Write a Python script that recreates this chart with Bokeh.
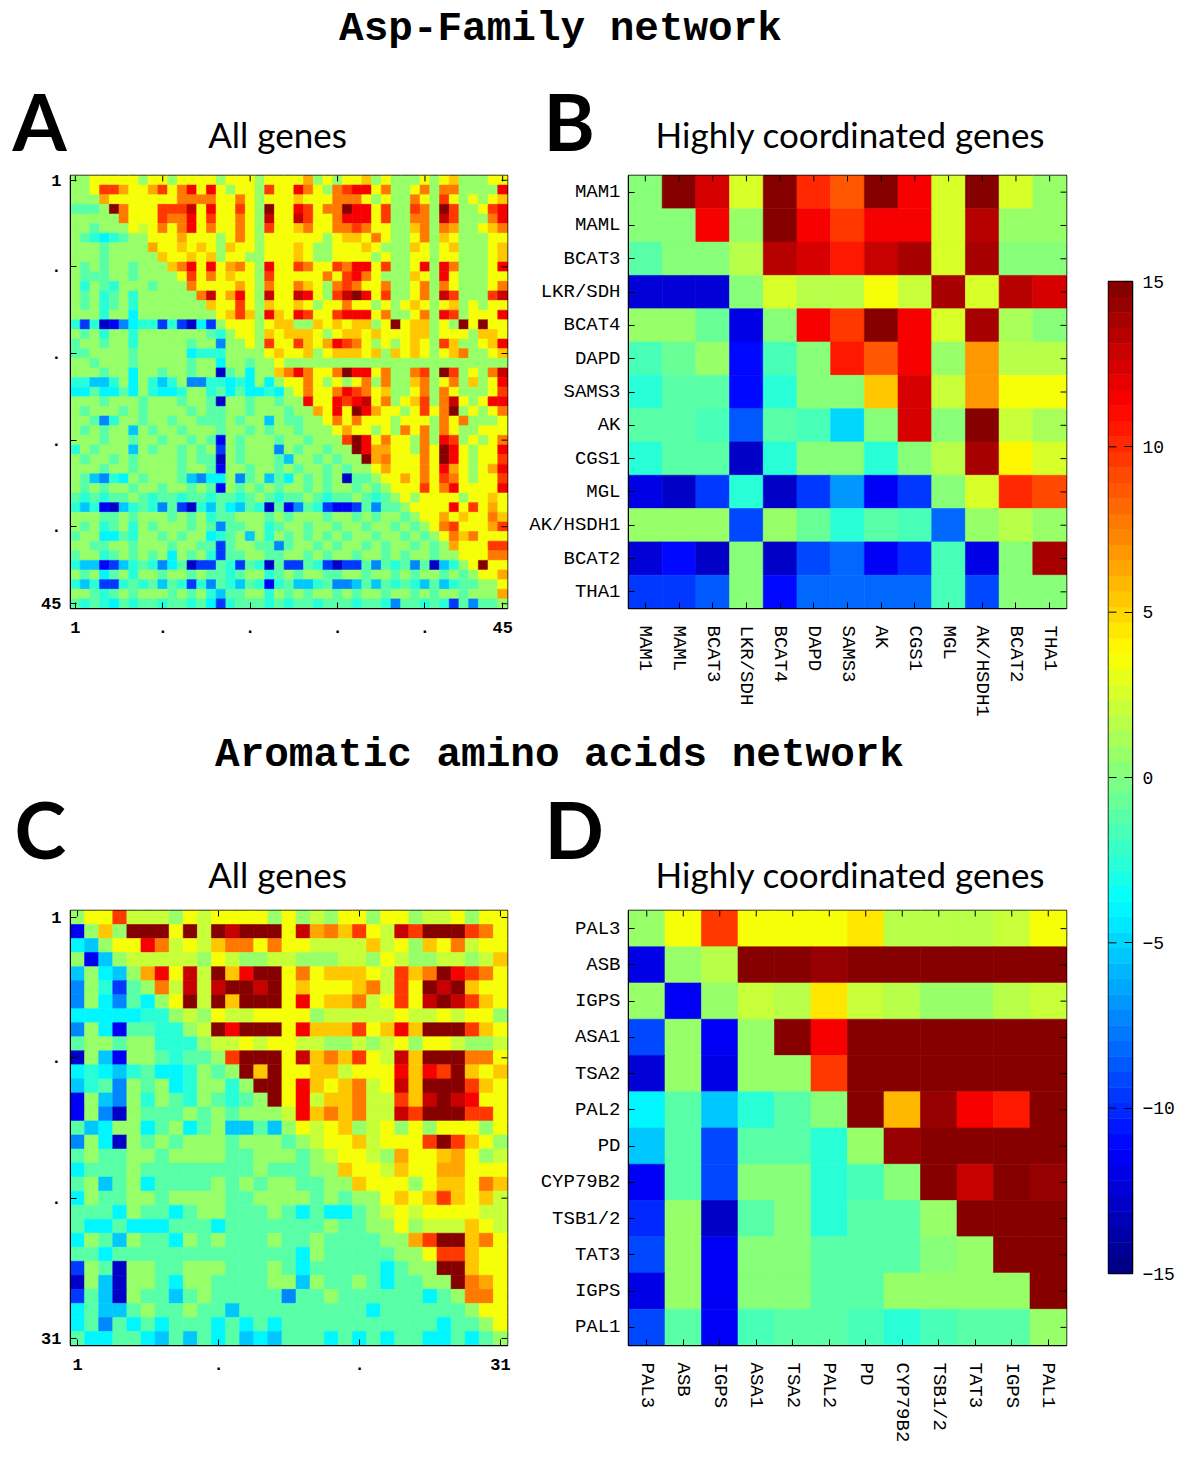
from bokeh.plotting import figure
from bokeh.models import Range1d, FixedTicker, LinearColorMapper, ColumnDataSource, Spacer
from bokeh.transform import transform
from bokeh.layouts import row, column
from bokeh.core.properties import value
from bokeh.embed import file_html
from bokeh.resources import INLINE

# ---------------- data ----------------
# level codes used for the two large "All genes" matrices
LEVELS = {'B': -13, 'b': -11.3, 'm': -9.5, 'l': -7.5, 's': -5.5, 'c': -4, 'q': -2.6,
          'a': -1.2, 'g': 0.5, 'h': 2, 'y': 3.6, 'Y': 5.2, 'O': 6.5, 'o': 7.8,
          'r': 9.5, 'R': 11.3, 'd': 13, 'D': 15}

A_ROWS = [
    "ggyyyyygyy" "gyyyygyyyg" "yyyyOgygyy" "YgygggygyY" "gggyy",
    "ggyrrOyyOr" "yoRyRygyyg" "ryyRoygorR" "Ryoggyogoo" "ggggR",
    "gggOyyyyyy" "yooooyyoyg" "yyyYyyyooo" "ygyggoygry" "gygyY",
    "aaagDoyyyr" "rrdyRyyryg" "DyyRryooDR" "RyrggrogDr" "ggyrR",
    "gggggoyyyr" "ooRyryyoyg" "dyydryyoRR" "Ryrggoogdr" "gggoR",
    "ggagggyhyo" "yoRyoyyoyg" "ryyYoyyoor" "oyyggYogoO" "ggyYo",
    "gaqcqaggyy" "yOyyygyoyg" "yyyyyygyYY" "yoyggyogYy" "gggyy",
    "gggaggggOy" "yYyYygYyyg" "yyyYyggyyy" "YygggYygyY" "gggyY",
    "gggagggggY" "yyYyYgyygg" "yyyYyggyyy" "ygyggyygyy" "gggyY",
    "gagaggaggg" "YoRyRyOoyg" "RyyroyyroR" "RyrggyRgRo" "gggyR",
    "gaaaggaggg" "gyryoyYyyg" "ryyyyyoyrR" "oygggYygRy" "gggyy",
    "gqgaqgggag" "ggoyyyyOyg" "oyyoYygoro" "yyoggyogoy" "gggyo",
    "gagqagqggg" "gggodyORyg" "dyydRygrdD" "Ryrggyogdr" "gggrd",
    "gagqagqggg" "ggggYyyryg" "YyyYygyyoy" "ygygyYygyY" "gygyy",
    "gggqggcggg" "gggggyYrYg" "RYyRryyrRR" "RyoggyogRr" "gyyyR",
    "qmqBblcqqm" "qmBcmgyyyg" "yYYggYyYyY" "YgyDyYYgyg" "DyDyy",
    "gagqggqggg" "ggggaqgyyg" "YyYYYygyYY" "yYyyyYYgyy" "ygYYy",
    "aggaggqggg" "ggagglggyg" "ryyrYyORro" "ygygyYygrY" "ggyYR",
    "aaggggaggg" "ggcqqqgggg" "yYyyYgyYYY" "yYgYyYygyY" "oggyY",
    "ggagggaggg" "ggaggcggag" "gygggggggg" "gggggggggg" "ggggg",
    "gggaggcgga" "ggaggBagcg" "gYoRoyyoDR" "RyoggorgDr" "gygod",
    "qqssqgcgqs" "qgllqqcqcg" "cgyyoygygy" "ogoggYogyo" "gYgyR",
    "ccaccacgqc" "cqggqacacc" "qcgyoyyoRr" "oyYggyogoy" "gggyr",
    "gggagggagg" "gaggaBggag" "gaggRyyRrR" "dyogyYrgod" "ygyRR",
    "gagggagagg" "ggagaaggag" "ggaggOyRyD" "ROyygyryoD" "gygyo",
    "ggalqggagg" "aggaaagagg" "sgaaggyoyo" "yyygyyygoy" "ogggy",
    "gagaggsgag" "gagggaggag" "aggagggyOy" "ygygoyogoy" "ggyyy",
    "gggaggagga" "ggagabgagg" "gaggagggrD" "RyoyygogRr" "gygyo",
    "qgagggsgag" "gagagmgagg" "glgaggaggD" "ROOyygoyDR" "ygyyR",
    "gaggagaggg" "gagaaBgagg" "gasggagagg" "DOoyyyoyDR" "ygyyr",
    "gggaggaggg" "gaggabggag" "gagaggagag" "gyOyyyoyRO" "ygyOR",
    "gaslqcgagg" "gaslccglag" "sacgagagBa" "agyyOyoyro" "ygyyr",
    "gagaggagga" "ggagabgaga" "gaggagagga" "gagyyyryoR" "yyyyR",
    "aqaqaagaqa" "aqaaqaaqag" "aqaagaqaag" "aqagygyyyy" "gyyYy",
    "qsqbBsqaql" "amBqsacsaq" "Bablaqmbbm" "alaagyyyyR" "yryOy",
    "gggaagaggg" "agagqaaggg" "agagggagga" "gaggagyyOy" "YyyoY",
    "gagqagqgag" "ggagalaagg" "qaggaggagg" "aggagagyor" "yyyOr",
    "aggccaqgga" "gaggcqagsg" "qgagagagag" "gaggagagyo" "Yoyyy",
    "ggaaggaggg" "aggaamagga" "alaggagagg" "agaggagagO" "yyyrr",
    "aggqagagag" "cgagqmaagg" "aaggagagga" "ggagaggagg" "yyyoo",
    "qssbmsqaql" "caBmmaqmaq" "BammaqmBmm" "alaqalaBsq" "gyDyy",
    "gagcagqgga" "ggagaaqagg" "qagaggaagg" "aggagaggag" "agyyO",
    "qsqmmqaqas" "aqmqlaqsaq" "bqassqalls" "asaqaqsasq" "aaggy",
    "ggaqagaggg" "agagqsaagg" "qgagaggaga" "ggaggagagg" "agggO",
    "aqaqcaqaaq" "aaqacmqaaa" "qaqaaqaaaq" "aaqlaaqaqm" "alaag",
]

C_ROWS = [
    "gyyrhhhgyh" "yyyygyghgy" "ygyyghhygy" "y",
    "bgYgDDDyDh" "DdDDDydOoY" "ryhdrDDDro" "y",
    "csgyyRohyh" "Yooyoyyhhh" "hYhygYyohy" "y",
    "gbsghhhhhg" "yhgghhgggh" "hgyhgghhgh" "Y",
    "sgcsgORydh" "DYRDDyoyYY" "YyhrYoDRro" "y",
    "lgqmagohdh" "dDDdDyYyyy" "YohryDdDYy" "y",
    "lgclacgyDh" "DYDDDyRyYY" "ohyrydDdrY" "y",
    "cccccqqghg" "yhhyyyyghh" "hhhyhhyhyy" "g",
    "lgcbaaqqgh" "DRDDDyRYYY" "ryYRYDDDrY" "y",
    "aggaggqqqg" "hhyhyyhhgg" "hghygyyhgg" "h",
    "Bgsbggaqaa" "grDDDydYoY" "ryhdYDDDoo" "y",
    "cqcsqaccqg" "agDYDyyYYh" "yyyRYRrDYy" "Y",
    "sqalgagcqg" "gqgDDyRYyY" "ohydYDDDrY" "y",
    "bgslgqgaqg" "aqagDyRhYY" "ohhrYdDdRy" "y",
    "bglBgaaaga" "gaggghRYoY" "ohhdrDDDrr" "y",
    "ascggcagca" "gssasgyhyY" "ghygygyyyg" "y",
    "lgcBgagagg" "gagggaghyy" "YhyyyrDrYy" "g",
    "agaaggaggg" "gaagggaghy" "yhgOyyYOyg" "h",
    "caaagaaaaa" "aaagaaaggY" "yyhYyyOOyy" "y",
    "agsagcaaaa" "gagaggaagg" "YyyygyYYyo" "Y",
    "cgaaggaggg" "gaaggggaga" "ggyYyYrYyY" "h",
    "aaacgaacag" "gaaagacacc" "aghyhyyyyh" "h",
    "accacccaaa" "caaaaaaaga" "aggyghhhYy" "h",
    "cgasgaacga" "gaaagaagaa" "aaggOrDDYo" "y",
    "aacaaaaaaa" "aaaaaacgaa" "aaaggyrrYy" "y",
    "mgaBggaagg" "gaaagacaaa" "aacaggDDYy" "y",
    "BgsBggacgg" "aaaaggsgaa" "gacaaggDoO" "y",
    "masBgaasag" "aaaaalaaga" "aaaaacagoo" "y",
    "cassagaaga" "asaaaaaaaa" "acaaaaaagy" "y",
    "calacacaaa" "cacacaaaaa" "aaaaaacaag" "y",
    "accaacsasa" "cascsaaaca" "cacaaccaca" "g",
]

A_TICKS = [1, 10, 19, 28, 37, 45]
A_TICK_LABELS = ["1", ".", ".", ".", ".", "45"]
C_TICKS = [1, 11, 21, 31]
C_TICK_LABELS = ["1", ".", ".", "31"]

B_GENES = ["MAM1", "MAML", "BCAT3", "LKR/SDH", "BCAT4", "DAPD", "SAMS3", "AK",
           "CGS1", "MGL", "AK/HSDH1", "BCAT2", "THA1"]
B_VALUES = [
    [0.3, 15, 12.5, 2.5, 15, 10, 8.5, 15, 11.5, 2.5, 15, 2.5, 0.5],
    [0.3, 0.3, 11.5, 0.5, 15, 11.5, 9.5, 11.5, 11.5, 2.5, 13.5, 0.5, 0.5],
    [-1, 0.3, 0.3, 1.5, 13.5, 12.5, 10.5, 13, 14, 2.5, 14, 0.3, 0.3],
    [-12.5, -12.5, -12.5, 0.3, 2.5, 1.5, 1.5, 3.5, 2, 14, 2.5, 13.5, 12.5],
    [0.5, 0.5, -0.8, -12, 0.3, 11.5, 9.5, 15, 11.5, 2.5, 14, 1, 0.3],
    [-1.5, -0.8, 0.5, -11, -1.8, 0.3, 10.5, 8.5, 11.5, 0.8, 7, 1.5, 1.5],
    [-2.6, -1, -1, -11, -2.6, 0.3, 0.3, 5.5, 12.5, 2.3, 7, 3.5, 3.5],
    [-1, -1, -1.5, -8.5, -1.2, -1.8, -4.9, 0.3, 12.5, 0.3, 15, 2, 1],
    [-2.5, -1, -1, -12.8, -2.6, 0.3, 0.3, -2.6, 0.3, 1.5, 14, 3.8, 2.5],
    [-12, -12.8, -9.5, -2.6, -12.8, -9.8, -6.8, -11.3, -9.8, 0.3, 2.5, 10, 9],
    [0.8, 0.8, 0.8, -9, 0.8, -0.8, -2.6, -1, -1.8, -8.3, 0.5, 1.8, 0.5],
    [-12.5, -11, -12.8, 0.3, -13, -9, -8.3, -11.3, -10, -1.8, -12, 0.3, 14],
    [-9.5, -9.5, -8.5, 0.3, -11, -8, -8, -8, -8, -1.8, -9, 0.3, 0.3],
]

D_GENES = ["PAL3", "ASB", "IGPS", "ASA1", "TSA2", "PAL2", "PD", "CYP79B2",
           "TSB1/2", "TAT3", "IGPS", "PAL1"]
D_VALUES = [
    [0.5, 3.5, 9.5, 3.3, 3.3, 3.3, 4.5, 1.5, 1.5, 1.5, 2.2, 3.3],
    [-11.8, 0.5, 1.5, 15, 15, 14.3, 15, 15, 15, 15, 15, 15],
    [0.5, -11.5, 0.5, 2.3, 1.5, 4.5, 2.3, 1.5, 0.5, 0.5, 1.5, 2.3],
    [-9, 0.5, -11.3, 0.5, 15, 11.5, 15, 15, 15, 15, 15, 15],
    [-12.5, 0.5, -12, 0.5, 0.5, 9.5, 15, 15, 15, 15, 15, 15],
    [-3.8, -1, -5.5, -2.6, -1.2, 0.3, 15, 6, 14.2, 11.3, 10.5, 15],
    [-5.5, -1, -9, -1, -1, -2.6, 0.5, 14.2, 15, 15, 15, 15],
    [-11.5, -1, -9, 0.3, 0.3, -2.6, -1.5, 0.3, 15, 13, 15, 14.2],
    [-10, 0.5, -12.8, -1, 0.3, -2.6, -1, -1, 0.5, 15, 15, 15],
    [-9, 0.5, -11.3, 0.3, 0.3, -1, -1, -1, 0.3, 0.5, 15, 15],
    [-12, 0.5, -11.5, 0.3, 0.3, -1, -1, 0.5, 0.5, 0.5, 0.5, 15],
    [-9, -1, -11.3, -1.5, -1, -1, -1.5, -2.6, -1.5, -1, -1, 0.5],
]

CBAR_TICKS = [-15, -10, -5, 0, 5, 10, 15]
CBAR_LABELS = ["\u221215", "\u221210", "\u22125", "0", "5", "10", "15"]
VMIN, VMAX = -15, 15

# ---------------- style ----------------
MONO = "Liberation Mono"
HEAD = "Lato"


def jet(n=64):
    cols = []
    for i in range(n):
        t = (i + 0.5) / n
        r = min(1, max(0, 1.5 - abs(4 * t - 3)))
        g = min(1, max(0, 1.5 - abs(4 * t - 2)))
        b = min(1, max(0, 1.5 - abs(4 * t - 1)))
        cols.append("#%02x%02x%02x" % (round(r * 255), round(g * 255), round(b * 255)))
    return cols


PALETTE = jet(64)
MAPPER = LinearColorMapper(palette=PALETTE, low=VMIN, high=VMAX)


def decode(rows):
    return [[LEVELS[ch] for ch in r] for r in rows]


def band(w, h):
    p = figure(width=w, height=h, x_range=Range1d(0, w), y_range=Range1d(h, 0),
               x_axis_type=None, y_axis_type=None, min_border=0,
               output_backend="svg", toolbar_location=None)
    p.outline_line_color = None
    return p


def put(p, x, y, txt, font, size, style="normal", align="left"):
    p.text(x=[x], y=[y], text=[txt], text_font=value(font), text_font_size=size,
           text_font_style=style, text_align=align, text_baseline="alphabetic",
           text_color="black")


def style_axis(ax, ticks, labels, font, size, style, standoff):
    ax.ticker = FixedTicker(ticks=ticks)
    ax.major_label_overrides = {t: l for t, l in zip(ticks, labels)}
    ax.major_tick_in = 6
    ax.major_tick_out = 0
    ax.minor_tick_line_color = None
    ax.axis_line_color = "black"
    ax.major_tick_line_color = "black"
    ax.major_label_text_font = font
    ax.major_label_text_font_size = size
    ax.major_label_text_font_style = style
    ax.major_label_text_color = "black"
    ax.major_label_standoff = standoff


def heatmap(mat, w, h, left, right, top, bottom, ticks, labels, font, size, style,
            xstand, ystand, vertical=False):
    n = len(mat)
    xs, ys, vs = [], [], []
    for i, r in enumerate(mat):
        for j, v in enumerate(r):
            xs.append(j + 1)
            ys.append(i + 1)
            vs.append(v)
    src = ColumnDataSource(dict(x=xs, y=ys, v=vs))
    p = figure(width=w, height=h, x_range=Range1d(0.5, n + 0.5), y_range=Range1d(n + 0.5, 0.5),
               min_border_left=left, min_border_right=right, min_border_top=top,
               min_border_bottom=bottom, output_backend="svg", toolbar_location=None)
    p.rect(x="x", y="y", width=1, height=1, source=src,
           fill_color=transform("v", MAPPER), line_color=transform("v", MAPPER), line_width=0.6)
    p.grid.visible = False
    p.outline_line_color = "black"
    p.outline_line_width = 1.5
    style_axis(p.xaxis[0], ticks, labels, font, size, style, xstand)
    style_axis(p.yaxis[0], ticks, labels, font, size, style, ystand)
    if vertical:
        p.xaxis[0].major_label_orientation = "vertical"
    # inward tick marks on the top and right edges (box style)
    fw = w - left - right
    L = 6.0 * n / fw
    p.segment(x0=ticks, y0=[0.5] * len(ticks), x1=ticks, y1=[0.5 + L] * len(ticks),
              line_color="black", line_width=1)
    p.segment(x0=[n + 0.5] * len(ticks), y0=ticks, x1=[n + 0.5 - L] * len(ticks), y1=ticks,
              line_color="black", line_width=1)
    return p


A = decode(A_ROWS)
C = decode(C_ROWS)

pA = heatmap(A, 507, 559, 62, 8, 4, 122, A_TICKS, A_TICK_LABELS, MONO, "17px", "bold", 13, 9)
pB = heatmap(B_VALUES, 575, 559, 113, 24, 4, 122, list(range(1, len(B_GENES) + 1)), B_GENES,
             MONO, "19px", "normal", 17, 8, vertical=True)
pC = heatmap(C, 507, 551, 62, 8, 4, 112, C_TICKS, C_TICK_LABELS, MONO, "17px", "bold", 13, 9)
pD = heatmap(D_VALUES, 575, 551, 113, 24, 4, 112, list(range(1, len(D_GENES) + 1)), D_GENES,
             MONO, "19px", "normal", 17, 8, vertical=True)

# text bands (coordinates are pixels inside each band)
b1 = band(1082, 171)
put(b1, 552, 28, "Asp-Family network", MONO, "41px", "bold", "center")
put(b1, 4, 120, "A", HEAD, "78px", "bold")
put(b1, 269, 133, "All genes", HEAD, "35px", "normal", "center")
put(b1, 535, 120, "B", HEAD, "78px", "bold")
put(b1, 842, 133, "Highly coordinated genes", HEAD, "35px", "normal", "center")

b2 = band(1082, 176)
put(b2, 551, 24, "Aromatic amino acids network", MONO, "41px", "bold", "center")
put(b2, 6, 98, "C", HEAD, "78px", "bold")
put(b2, 269, 143, "All genes", HEAD, "35px", "normal", "center")
put(b2, 536, 98, "D", HEAD, "78px", "bold")
put(b2, 842, 143, "Highly coordinated genes", HEAD, "35px", "normal", "center")

# colorbar
cb = figure(width=102, height=1457, x_range=Range1d(0, 1), y_range=Range1d(VMIN, VMAX),
            min_border_left=18, min_border_right=60, min_border_top=281, min_border_bottom=184,
            x_axis_type=None, y_axis_location="right", output_backend="svg", toolbar_location=None)
step = (VMAX - VMIN) / len(PALETTE)
cb.quad(left=0, right=1, bottom=[VMIN + k * step for k in range(len(PALETTE))],
        top=[VMIN + (k + 1) * step for k in range(len(PALETTE))], fill_color=PALETTE,
        line_color=PALETTE, line_width=0.5)
cb.grid.visible = False
cb.outline_line_color = "black"
cb.outline_line_width = 1.5
style_axis(cb.yaxis[0], CBAR_TICKS, CBAR_LABELS, MONO, "18px", "normal", 10)
cb.yaxis[0].major_tick_in = 8
cb.segment(x0=[0] * len(CBAR_TICKS), y0=CBAR_TICKS, x1=[8 / 24] * len(CBAR_TICKS), y1=CBAR_TICKS,
           line_color="black", line_width=1)

left_col = column(b1, row(pA, pB), b2, row(pC, pD))
layout = row(Spacer(width=8, height=10), left_col, cb)

open("out.html", "w").write(file_html(layout, INLINE))
